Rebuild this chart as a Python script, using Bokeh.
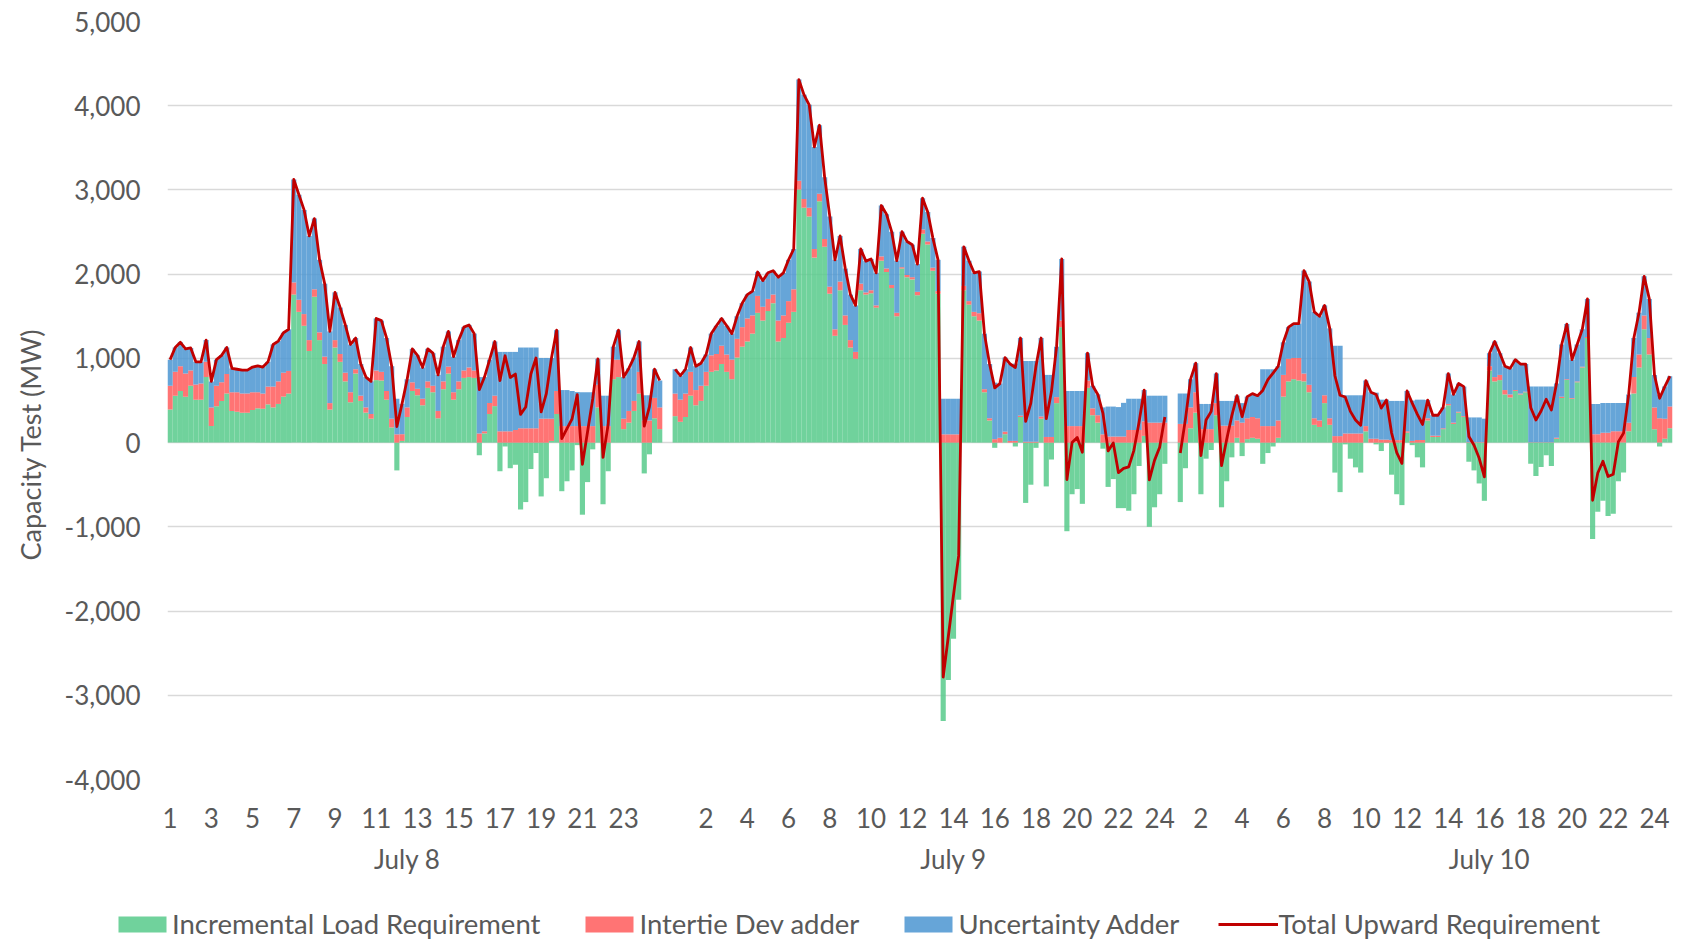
import numpy as np
from bokeh.plotting import figure
from bokeh.layouts import column
from bokeh.models import (Range1d, FixedTicker, LinearAxis, NumeralTickFormatter,
                          Legend, LegendItem, ColumnDataSource, Title)
from bokeh.embed import file_html
from bokeh.resources import INLINE

FONT = "Lato"
TXT = "#595959"
FS = "26px"

# ---- axis labels -------------------------------------------------------
hour_labels = ["1", "3", "5", "7", "9", "11", "13", "15", "17", "19", "21", "23", "",
               "2", "4", "6", "8", "10", "12", "14", "16", "18", "20", "22", "24",
               "2", "4", "6", "8", "10", "12", "14", "16", "18", "20", "22", "24"]
date_labels = ["July 8", "July 9", "July 10"]
series_names = ["Incremental Load Requirement", "Intertie Dev adder",
                "Uncertainty Adder", "Total Upward Requirement"]

# ---- 15-minute values (MW) ----------------------------------------------
load_jul8 = [392, 557, 613, 546, 675, 510, 510, 778, 196, 433, 495, 582,
             376, 366, 356, 356, 387, 407, 402, 454, 418, 459, 546, 582,
             1758, 1552, 1387, 1088, 1732, 1217, 933, 392, 1129, 959, 727, 479,
             820, 495, 356, 284, 742, 737, 510, 180, -330, 20, 304, 613,
             562, 443, 650, 598, 289, 634, 820, 510, 634, 768, 778, 768,
             -150, 110, 340, 433, -340, -46, -304, -263, -794, -706, -314, -124,
             -639, -423, 20, 340, -577, -459, -330, -30, -856, -469, -80, 418,
             -732, -340, 753, 778, 160, 237, 376, 582, -366, -139, 289, 160]
intertie_jul8 = [283, 283, 294, 274, 181, 180, 191, 181, 222, 242, 221, 233,
                 222, 232, 226, 226, 211, 191, 180, 211, 247, 268, 284, 269,
                 144, 144, 139, 129, 88, 92, 88, 77, 88, 93, 103, 119,
                 51, 62, 62, 56, 114, 103, 103, 104, 98, 80, 114, 103,
                 77, 78, 77, 77, 87, 93, 82, 88, 93, 88, 114, 88,
                 108, 24, 130, 124, 134, 134, 134, 150, 170, 170, 170, 170,
                 284, 284, 264, 273, 196, 196, 196, 196, 196, 196, 196, 268,
                 196, 196, 232, 207, 124, 139, 119, 258, 263, 263, 242, 258]
uncert_jul8 = [310, 289, 284, 293, 268, 269, 258, 258, 309, 310, 320, 314,
               283, 273, 279, 279, 299, 314, 315, 294, 500, 479, 474, 494,
               1222, 1247, 1237, 1237, 840, 861, 866, 851, 567, 551, 567, 567,
               371, 376, 360, 387, 618, 608, 629, 623, 423, 360, 335, 397,
               397, 371, 386, 387, 428, 412, 418, 423, 490, 515, 505, 438,
               670, 644, 515, 643, 943, 943, 943, 927, 959, 959, 959, 959,
               721, 721, 720, 722, 428, 428, 417, 404, 402, 402, 402, 309,
               361, 361, 154, 350, 494, 505, 515, 361, 299, 299, 340, 319]

load_jul9 = [314, 247, 304, 557, 443, 495, 675, 840, 856, 933, 840, 753,
             1010, 1139, 1201, 1294, 1541, 1449, 1562, 1655, 1201, 1242, 1423, 1552,
             3005, 2789, 2686, 2196, 2866, 2325, 1768, 1268, 1809, 1397, 1129, 995,
             1809, 1758, 1773, 1603, 2160, 2026, 1835, 1500, 2067, 1964, 1938, 1750,
             2480, 2351, 2041, 1768, -3304, -2820, -2330, -1866, 1809, 1639, 1500, 1449,
             598, 263, -62, 0, 100, 0, -46, 304, -716, -500, -62, 284,
             -520, -201, 469, 1371, -1052, -613, -552, -727, 650, 325, 237, -72,
             -526, -433, -778, -778, -809, -613, -278, 80, -1000, -768, -613, -252]
intertie_jul9 = [268, 263, 278, 283, 181, 180, 165, 196, 196, 217, 206, 232,
                 222, 232, 273, 216, 201, 164, 144, 103, 248, 268, 257, 268,
                 103, 103, 103, 103, 88, 93, 83, 77, 103, 113, 88, 82,
                 78, 25, 36, 26, 51, 41, 36, 41, 16, 26, 26, 40,
                 51, 36, 36, 31, 98, 98, 98, 98, 52, 41, 52, 87,
                 36, 26, 41, 57, 30, 20, 20, 16, 10, 10, 10, 26,
                 67, 67, 71, 78, 196, 196, 196, 196, 87, 82, 88, 98,
                 72, 72, 72, 72, 150, 150, 150, 172, 237, 237, 237, 237]
uncert_jul9 = [289, 284, 289, 289, 283, 268, 206, 258, 335, 324, 341, 309,
               268, 284, 284, 289, 284, 310, 310, 283, 515, 506, 490, 479,
               1202, 1237, 1222, 1212, 814, 732, 835, 825, 542, 557, 541, 552,
               412, 372, 371, 387, 604, 645, 634, 619, 422, 397, 386, 330,
               371, 350, 351, 371, 423, 423, 423, 423, 464, 480, 464, 495,
               660, 644, 671, 644, 880, 913, 918, 922, 959, 959, 959, 932,
               737, 737, 599, 731, 417, 417, 417, 417, 325, 268, 247, 320,
               356, 356, 350, 400, 371, 371, 371, 372, 320, 320, 320, 320]

load_jul10 = [-706, -304, 170, 356, -613, -191, -88, 325, -768, -459, -175, 57,
              -160, 41, 57, 46, -252, -124, -46, 57, 546, 727, 753, 737,
              727, 598, 211, 186, 469, 211, -356, -588, -21, -191, -294, -356,
              134, 0, -21, -100, -5, -381, -613, -742, 118, -30, -175, -294,
              263, 67, 67, 160, 443, 222, 356, 304, -227, -330, -485, -691,
              856, 727, 742, 572, 536, 613, 572, 598, -252, -397, -289, -150,
              -278, 46, 531, 742, 521, 716, 892, 1242, -1144, -820, -691, -871,
              -845, -459, -356, 134, 582, 892, 1345, 1046, 160, -46, 46, 170]
intertie_jul10 = [222, 222, 248, 242, 160, 160, 160, 144, 201, 201, 201, 206,
                  237, 248, 247, 243, 196, 196, 196, 206, 258, 268, 252, 268,
                  93, 88, 78, 77, 93, 78, 77, 77, 108, 108, 108, 108,
                  62, 46, 46, 35, 35, 30, 30, 30, 16, 20, 31, 31,
                  26, 15, 15, 10, 16, 15, 10, 10, 5, 5, 5, 5,
                  51, 51, 62, 52, 36, 11, 10, 7, 5, 5, 5, 5,
                  5, 11, 15, 11, 10, 11, 10, 11, 98, 98, 118, 118,
                  134, 134, 134, 103, 196, 154, 165, 196, 258, 289, 238, 258]
uncert_jul10 = [361, 361, 335, 345, 299, 299, 299, 351, 294, 294, 294, 294,
                232, 257, 278, 268, 675, 675, 675, 644, 387, 376, 407, 407,
                1221, 1226, 1263, 1237, 1067, 1067, 1073, 1073, 454, 454, 454, 454,
                541, 552, 547, 475, 475, 465, 465, 465, 479, 479, 479, 479,
                216, 243, 243, 248, 361, 335, 335, 351, 294, 294, 294, 279,
                155, 423, 258, 283, 309, 361, 351, 328, 660, 660, 660, 660,
                660, 644, 619, 654, 454, 438, 443, 453, 361, 361, 351, 351,
                335, 335, 335, 335, 464, 495, 464, 464, 386, 283, 381, 361]

gap = [None, None]  # blank separator rows between days

# ---- assemble ------------------------------------------------------------
load = np.array(load_jul8 + gap + load_jul9 + gap + load_jul10, dtype=float)
intertie = np.array(intertie_jul8 + gap + intertie_jul9 + gap + intertie_jul10, dtype=float)
uncert = np.array(uncert_jul8 + gap + uncert_jul9 + gap + uncert_jul10, dtype=float)
x = np.arange(len(load), dtype=float)
valid = ~np.isnan(load)

base = np.maximum(load, 0)
total = load + intertie + uncert

bars = ColumnDataSource(dict(
    x=x[valid],
    g_top=load[valid], g_bot=np.zeros(valid.sum()),
    r_bot=base[valid], r_top=(base + intertie)[valid],
    b_bot=(base + intertie)[valid], b_top=(base + intertie + uncert)[valid],
))
line_src = ColumnDataSource(dict(x=x, total=total))

GREEN, RED, BLUE, LINE = "#57CA8B", "#FF5C5C", "#4B95D1", "#C00000"
ALPHA = 0.85
LW = 2.8

# ---- main chart ----------------------------------------------------------
p = figure(width=1680, height=900, output_backend="svg", toolbar_location=None,
           x_range=Range1d(-0.5, len(load) - 0.5), y_range=Range1d(-4000, 5000),
           min_border_left=167, min_border_right=8, min_border_top=21, min_border_bottom=121,
           background_fill_color="white", border_fill_color="white")
p.outline_line_color = None
p.frame_align = False

p.vbar(x="x", top="g_top", bottom="g_bot", width=1.0, source=bars,
       fill_color=GREEN, fill_alpha=ALPHA, line_color=None)
p.vbar(x="x", top="r_top", bottom="r_bot", width=1.0, source=bars,
       fill_color=RED, fill_alpha=ALPHA, line_color=None)
p.vbar(x="x", top="b_top", bottom="b_bot", width=1.0, source=bars,
       fill_color=BLUE, fill_alpha=ALPHA, line_color=None)
p.line(x="x", y="total", source=line_src, line_color=LINE, line_width=LW,
       line_join="round")

p.xgrid.visible = False
p.ygrid.ticker = FixedTicker(ticks=list(range(-4000, 5001, 1000)))
p.ygrid.grid_line_color = "#D9D9D9"
p.ygrid.grid_line_width = 1.4

yax = p.yaxis[0]
yax.ticker = FixedTicker(ticks=list(range(-4000, 5001, 1000)))
yax.formatter = NumeralTickFormatter(format="0,0")
yax.axis_line_color = None
yax.major_tick_line_color = None
yax.minor_tick_line_color = None
yax.major_tick_out = 0
yax.major_label_standoff = 27
yax.major_label_text_font = FONT
yax.major_label_text_font_size = FS
yax.major_label_text_color = TXT

# y-axis title as a side title, anchored from the bottom of the frame
ytitle = Title(text="Capacity Test (MW)", align="left", offset=219, standoff=25,
               vertical_align="top",
               text_font=FONT, text_font_size="27px", text_font_style="normal",
               text_color=TXT)
p.add_layout(ytitle, "left")

hour_ticks = [8 * i for i in range(len(hour_labels))]
xax = p.xaxis[0]
xax.ticker = FixedTicker(ticks=hour_ticks)
xax.major_label_overrides = {t: lab for t, lab in zip(hour_ticks, hour_labels)}
xax.axis_line_color = None
xax.major_tick_line_color = None
xax.minor_tick_line_color = None
xax.major_label_standoff = 22
xax.major_label_text_font = FONT
xax.major_label_text_font_size = FS
xax.major_label_text_color = TXT

date_pos = [46.0, 152.0, 256.0]
dax = LinearAxis(ticker=FixedTicker(ticks=date_pos),
                 major_label_overrides={t: lab for t, lab in zip(date_pos, date_labels)})
dax.axis_line_color = None
dax.major_tick_line_color = None
dax.minor_tick_line_color = None
dax.major_label_standoff = 6
dax.major_label_text_font = FONT
dax.major_label_text_font_size = FS
dax.major_label_text_color = TXT
p.add_layout(dax, "below")

# ---- legend strip (legend-only renderers holding a single NaN point) ------
lg = figure(width=1680, height=40, output_backend="svg", toolbar_location=None,
            x_range=Range1d(0, 1), y_range=Range1d(0, 1),
            x_axis_type=None, y_axis_type=None,
            min_border_left=0, min_border_right=0, min_border_top=0, min_border_bottom=0,
            background_fill_color="white", border_fill_color="white")
lg.outline_line_color = None
lg.grid.visible = False
lg.frame_align = False
nan_src = ColumnDataSource(dict(x=[np.nan], top=[np.nan], y=[np.nan]))
lr_g = lg.vbar(x="x", top="top", width=1, source=nan_src, fill_color=GREEN,
               fill_alpha=ALPHA, line_color=None)
lr_r = lg.vbar(x="x", top="top", width=1, source=nan_src, fill_color=RED,
               fill_alpha=ALPHA, line_color=None)
lr_b = lg.vbar(x="x", top="top", width=1, source=nan_src, fill_color=BLUE,
               fill_alpha=ALPHA, line_color=None)
lr_l = lg.line(x="x", y="y", source=nan_src, line_color=LINE, line_width=LW)

legend = Legend(items=[LegendItem(label=n, renderers=[rr]) for n, rr in
                       zip(series_names, [lr_g, lr_r, lr_b, lr_l])],
                orientation="horizontal", location=(112, 0),
                glyph_width=60, glyph_height=20, label_standoff=0, spacing=39,
                padding=0, margin=0, border_line_color=None, background_fill_alpha=0,
                label_text_font=FONT, label_text_font_size="27.5px", label_text_color=TXT)
lg.add_layout(legend, "center")

layout = column(p, lg, spacing=0)
open("out.html", "w").write(file_html(layout, INLINE))
